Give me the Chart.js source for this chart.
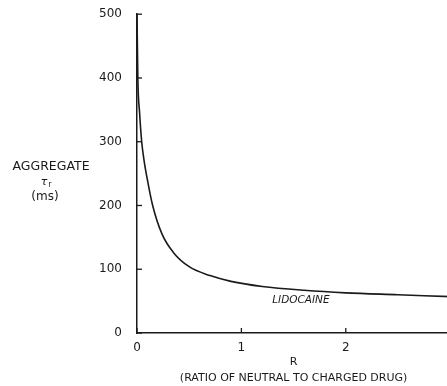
<!DOCTYPE html>
<html>
<head>
<meta charset="utf-8">
<script src="https://cdn.jsdelivr.net/npm/chart.js@4"></script>
<style>
  html, body { margin: 0; padding: 0; background: #fff; overflow: hidden; }
  #wrap { width: 454px; height: 386px; }
</style>
</head>
<body>
<div id="wrap"><canvas id="chart" width="454" height="386"></canvas></div>
<script>
// values
const ratio = [0, 0.008, 0.025, 0.045, 0.07, 0.1, 0.15, 0.24, 0.35, 0.5, 0.7, 0.9, 1.2, 1.6, 2.0, 2.5, 3.0];
const tau = [500, 400, 345, 300, 268, 240, 200, 155, 126, 104, 90, 81, 73, 67, 63, 60, 57];
const xTicks = [0, 1, 2, 3];
const yTicks = [0, 100, 200, 300, 400, 500];
const curveName = 'LIDOCAINE';
const yTitle = ['AGGREGATE', 'τ', 'r', '(ms)'];
const xTitle = ['R', '(RATIO OF NEUTRAL TO CHARGED DRUG)'];

const ink = '#1a1a1a';
const font = '"DejaVu Sans", sans-serif';

const points = ratio.map((r, i) => ({ x: r, y: tau[i] }));

// inward tick marks and free text
const extras = {
    id: 'extras',
    afterDraw(chart) {
        const ctx = chart.ctx;
        const xs = chart.scales.x, ys = chart.scales.y;
        ctx.save();
        ctx.strokeStyle = ink;
        ctx.lineWidth = 1.3;
        yTicks.forEach(v => {
            const py = ys.getPixelForValue(v);
            ctx.beginPath();
            ctx.moveTo(xs.left, py);
            ctx.lineTo(xs.left + 5, py);
            ctx.stroke();
        });
        xTicks.forEach(v => {
            const px = xs.getPixelForValue(v);
            ctx.beginPath();
            ctx.moveTo(px, ys.bottom);
            ctx.lineTo(px, ys.bottom - 5);
            ctx.stroke();
        });

        ctx.fillStyle = ink;
        ctx.textAlign = 'center';
        ctx.textBaseline = 'middle';
        ctx.font = 'italic 10.5px ' + font;
        ctx.fillText(curveName, xs.getPixelForValue(1.57), ys.getPixelForValue(52));

        ctx.font = '12.5px ' + font;
        ctx.fillText(yTitle[0], 51, 167);
        ctx.font = 'italic 11px ' + font;
        ctx.fillText(yTitle[1], 44, 182);
        ctx.font = '8px ' + font;
        ctx.fillText(yTitle[2], 50, 185);
        ctx.font = '12px ' + font;
        ctx.fillText(yTitle[3], 45, 197);
        ctx.restore();
    }
};

new Chart(document.getElementById('chart'), {
    type: 'scatter',
    data: {
        datasets: [{
            data: points,
            showLine: true,
            borderColor: ink,
            borderWidth: 1.6,
            pointRadius: 0,
            cubicInterpolationMode: 'monotone'
        }]
    },
    options: {
        responsive: false,
        animation: false,
        layout: { padding: { top: 8, left: 0, right: 0, bottom: 0 } },
        plugins: {
            legend: { display: false },
            tooltip: { enabled: false }
        },
        scales: {
            x: {
                type: 'linear',
                min: 0,
                max: 3,
                afterBuildTicks: s => { s.ticks = xTicks.map(v => ({ value: v })); },
                afterFit: s => { s.height = 53; },
                grid: { display: false },
                border: { color: ink, width: 1.5 },
                ticks: { color: ink, padding: 0, font: { family: font, size: 12 } },
                title: {
                    display: true,
                    text: xTitle,
                    color: ink,
                    padding: { top: 2, bottom: 0 },
                    font: { family: font, size: 11, lineHeight: 1.45 }
                }
            },
            y: {
                min: 0,
                max: 500,
                afterBuildTicks: s => { s.ticks = yTicks.map(v => ({ value: v })); },
                afterFit: s => { s.width = 137; },
                grid: { display: false },
                border: { color: ink, width: 1.5 },
                ticks: { color: ink, padding: 7, font: { family: font, size: 12 } }
            }
        }
    },
    plugins: [extras]
});
</script>
</body>
</html>
